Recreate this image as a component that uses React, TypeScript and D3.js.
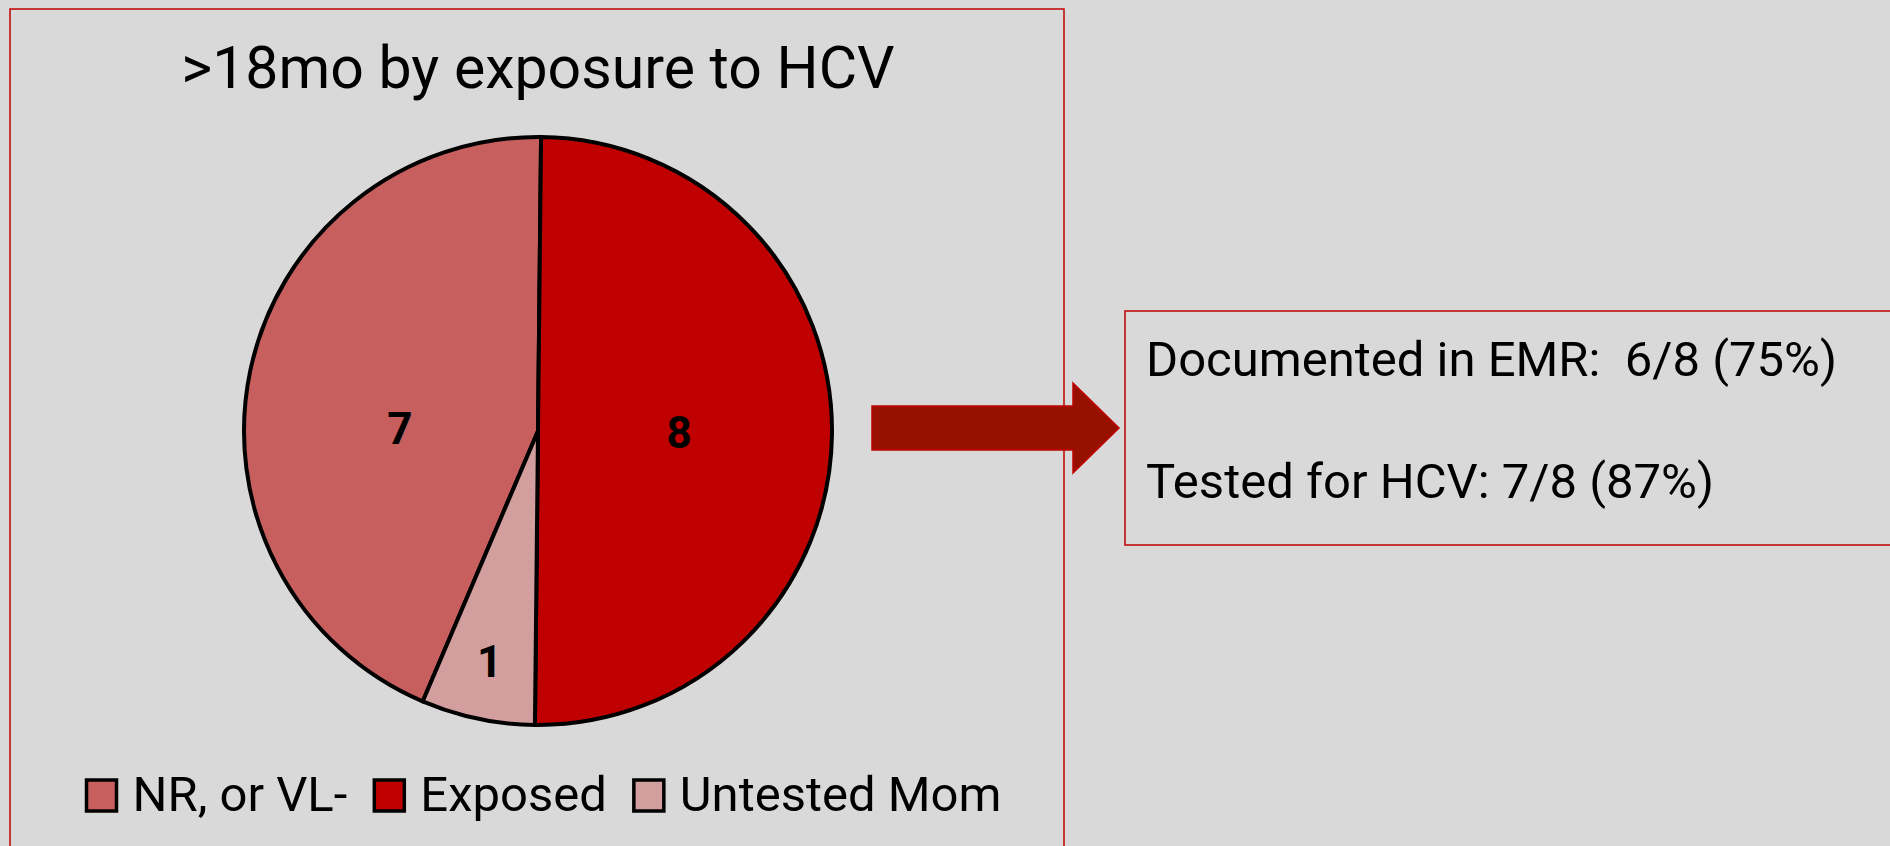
import React, { useEffect, useRef } from 'react'
import * as d3 from 'd3'

const categories = ['NR, or VL-', 'Exposed', 'Untested Mom']
const counts = [7, 8, 1]
const sliceColors = ['#C85F5F', '#C00000', '#D39E9E']
const title = '>18mo by exposure to HCV'
const notes = ['Documented in EMR:  6/8 (75%)', 'Tested for HCV: 7/8 (87%)']

// where the number sits inside each slice: share of the slice's angle, share of radius
const labelAngleFrac = [0.43, 0.5, 0.5]
const labelRadiusFrac = [0.47, 0.48, 0.8]

const W = 1890
const H = 846
const FONT = 'Roboto, "Liberation Sans", sans-serif'

function drawChart(svgEl) {
    const svg = d3.select(svgEl)
    svg.selectAll('*').remove()

    svg.append('rect').attr('width', W).attr('height', H).attr('fill', '#D9D9D9')

    // left panel frame
    svg.append('rect')
        .attr('x', 10).attr('y', 9).attr('width', 1054).attr('height', H + 20)
        .attr('fill', 'none').attr('stroke', '#C00000').attr('stroke-width', 1.5)

    const cx = 538
    const cy = 431
    const r = 294

    svg.append('text')
        .attr('x', cx).attr('y', 88)
        .attr('text-anchor', 'middle')
        .attr('font-family', FONT).attr('font-size', 59)
        .attr('fill', '#000')
        .text(title)

    // NR comes first, so Exposed starts (almost) at 12 o'clock
    const rot = 0.6 * Math.PI / 180
    const offset = (counts[0] / d3.sum(counts)) * 2 * Math.PI
    const pie = d3.pie()
        .sort(null)
        .value(d => d)
        .startAngle(-offset + rot)
        .endAngle(2 * Math.PI - offset + rot)

    const arcs = pie(counts)
    const arc = d3.arc().innerRadius(0).outerRadius(r)

    const g = svg.append('g').attr('transform', `translate(${cx},${cy})`)
    g.selectAll('path')
        .data(arcs)
        .enter()
        .append('path')
        .attr('d', arc)
        .attr('fill', (d, i) => sliceColors[i])
        .attr('stroke', '#000')
        .attr('stroke-width', 4)
        .attr('stroke-linejoin', 'round')

    g.selectAll('text.lbl')
        .data(arcs)
        .enter()
        .append('text')
        .attr('class', 'lbl')
        .attr('x', (d, i) => {
            const a = d.startAngle + labelAngleFrac[i] * (d.endAngle - d.startAngle)
            return Math.sin(a) * r * labelRadiusFrac[i]
        })
        .attr('y', (d, i) => {
            const a = d.startAngle + labelAngleFrac[i] * (d.endAngle - d.startAngle)
            return -Math.cos(a) * r * labelRadiusFrac[i]
        })
        .attr('dy', '0.35em')
        .attr('text-anchor', 'middle')
        .attr('font-family', FONT).attr('font-weight', 'bold').attr('font-size', 44)
        .text(d => d.data)

    // legend
    const legend = svg.append('g')
    const items = legend.selectAll('g')
        .data(categories)
        .enter()
        .append('g')
    items.append('rect')
        .attr('width', 30).attr('height', 31).attr('y', -31)
        .attr('fill', (d, i) => sliceColors[i])
        .attr('stroke', '#000').attr('stroke-width', 3.5)
    items.append('text')
        .attr('x', 46).attr('y', 0)
        .attr('font-family', FONT).attr('font-size', 49)
        .text(d => d)

    let x = 0
    items.each(function () {
        const item = d3.select(this)
        const tw = item.select('text').node().getComputedTextLength()
        item.attr('transform', `translate(${x},0)`)
        x += 46 + tw + 27
    })
    const legendW = x - 27
    legend.attr('transform', `translate(${544 - legendW / 2},811)`)

    // arrow
    const ax0 = 872, ax1 = 1073, tip = 1119, ay = 428
    svg.append('path')
        .attr('d', d3.line()([
            [ax0, ay - 22], [ax1, ay - 22], [ax1, ay - 45], [tip, ay],
            [ax1, ay + 45], [ax1, ay + 22], [ax0, ay + 22]
        ]) + 'Z')
        .attr('fill', '#981100')
        .attr('stroke', '#C00000').attr('stroke-width', 1.5)

    // notes box
    svg.append('rect')
        .attr('x', 1125).attr('y', 311).attr('width', 800).attr('height', 234)
        .attr('fill', 'none').attr('stroke', '#C00000').attr('stroke-width', 1.5)

    svg.selectAll('text.note')
        .data(notes)
        .enter()
        .append('text')
        .attr('class', 'note')
        .attr('x', 1146)
        .attr('y', (d, i) => 376 + i * 122)
        .attr('font-family', FONT).attr('font-size', 49)
        .style('white-space', 'pre')
        .text(d => d)
}

export default function App() {
    const ref = useRef(null)

    useEffect(() => {
        drawChart(ref.current)
    }, [])

    return (
        <svg ref={ref} width={W} height={H}
            style={{ position: 'absolute', left: 0, top: 0, display: 'block' }} />
    )
}
